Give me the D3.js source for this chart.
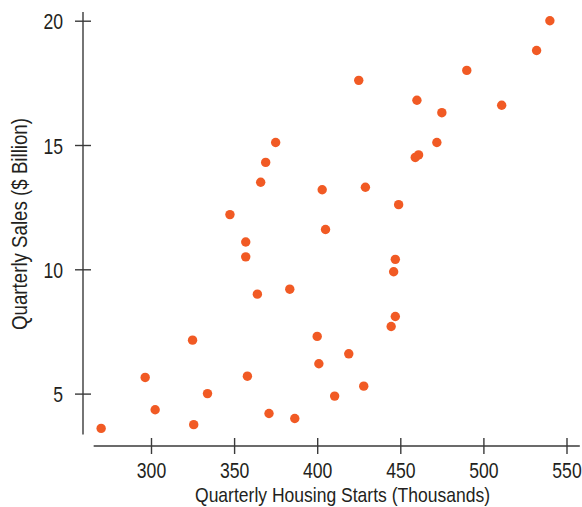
<!DOCTYPE html>
<html>
<head>
<meta charset="utf-8">
<script src="https://cdn.jsdelivr.net/npm/d3@7"></script>
<style>
  html, body { margin: 0; padding: 0; background: #fff; }
  svg { display: block; }
  text { font-family: "Liberation Sans", Arial, sans-serif; fill: #231f20; }
</style>
</head>
<body>
<svg id="chart" width="582" height="507"></svg>
<script>
// Quarterly housing starts (thousands) vs. quarterly sales ($ billion)
const housingStarts = [
  540, 532, 490, 425, 460, 511, 475, 375, 472, 461,
  459, 369, 366, 403, 429, 449, 347.5, 405, 357, 357,
  447, 446, 383.5, 364, 447, 444.5, 400, 419, 401, 358,
  334, 428, 410.5, 371, 386.5, 325, 296.5, 302.5, 270, 325.7
];
const quarterlySales = [
  20.0, 18.8, 18.0, 17.6, 16.8, 16.6, 16.3, 15.1, 15.1, 14.6,
  14.5, 14.3, 13.5, 13.2, 13.3, 12.6, 12.2, 11.6, 11.1, 10.5,
  10.4, 9.9, 9.2, 9.0, 8.1, 7.7, 7.3, 6.6, 6.2, 5.7,
  5.0, 5.3, 4.9, 4.2, 4.0, 7.15, 5.65, 4.35, 3.6, 3.75
];
const xTicks = [300, 350, 400, 450, 500, 550];
const yTicks = [5, 10, 15, 20];
const xTitle = "Quarterly Housing Starts (Thousands)";
const yTitle = "Quarterly Sales ($ Billion)";

const svg = d3.select("#chart");
const axisColor = "#3a3a3a";
const dotColor = "#f15a24";
const squeeze = 0.8; // narrow, condensed-style lettering
const fontSize = "22px";

const x = d3.scaleLinear().domain([300, 550]).range([151, 566.5]);
const y = d3.scaleLinear().domain([5, 20]).range([393.6, 20.7]);

// axis lines run a little past the outer ticks
const xLineExtent = [265.5, 558];
const yLineExtent = [3.35, 20.35];
const xAxisY = 446;
const yAxisX = 83;

// x axis
const gx = svg.append("g").attr("transform", `translate(0,${xAxisY})`)
  .call(d3.axisBottom(x).tickValues(xTicks).tickSize(8).tickFormat(d3.format("d")));
gx.select(".domain").remove();
gx.selectAll(".tick line").attr("y1", -8).attr("y2", 8)
  .attr("stroke", axisColor).attr("stroke-width", 1.4);
gx.selectAll(".tick text").remove();
gx.selectAll(".tick").append("text")
  .attr("transform", `translate(0,31.5) scale(${squeeze},1)`)
  .attr("text-anchor", "middle")
  .style("font-size", fontSize)
  .text(d => d);
gx.append("line")
  .attr("x1", x(xLineExtent[0])).attr("x2", x(xLineExtent[1]))
  .attr("stroke", axisColor).attr("stroke-width", 1.4);

// y axis
const gy = svg.append("g").attr("transform", `translate(${yAxisX},0)`)
  .call(d3.axisLeft(y).tickValues(yTicks).tickSize(8));
gy.select(".domain").remove();
gy.selectAll(".tick line").attr("x1", -8).attr("x2", 8)
  .attr("stroke", axisColor).attr("stroke-width", 1.4);
gy.selectAll(".tick text").remove();
gy.selectAll(".tick").append("text")
  .attr("transform", `translate(-20,8) scale(${squeeze},1)`)
  .attr("text-anchor", "end")
  .style("font-size", fontSize)
  .text(d => d);
gy.append("line")
  .attr("y1", y(yLineExtent[0])).attr("y2", y(yLineExtent[1]))
  .attr("stroke", axisColor).attr("stroke-width", 1.4);

// axis titles
svg.append("text")
  .attr("x", 195).attr("y", 502)
  .attr("textLength", 295).attr("lengthAdjust", "spacingAndGlyphs")
  .style("font-size", "21px")
  .text(xTitle);

svg.append("text")
  .attr("transform", "translate(27,330) rotate(-90)")
  .attr("textLength", 212).attr("lengthAdjust", "spacingAndGlyphs")
  .style("font-size", fontSize)
  .text(yTitle);

// points
svg.append("g").selectAll("circle")
  .data(d3.zip(housingStarts, quarterlySales))
  .join("circle")
  .attr("cx", d => x(d[0]))
  .attr("cy", d => y(d[1]))
  .attr("r", 4.7)
  .attr("fill", dotColor);
</script>
</body>
</html>
